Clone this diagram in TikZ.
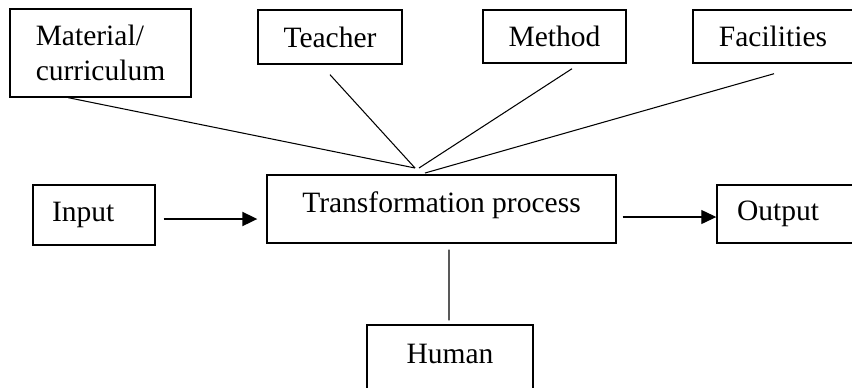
\documentclass[tikz,border=0pt]{standalone}
\usepackage{fontspec}
\setmainfont{Liberation Serif}
\usetikzlibrary{arrows.meta,calc}
\begin{document}
\begin{tikzpicture}
  [x=0.02cm,y=-0.02cm,every node/.style={draw,rectangle,line width=0.8pt,font=\fontsize{16.8}{19.5}\selectfont}]
  \tikzstyle{hightext} = [text height=0.4cm,text depth=0.28cm]
  \tikzstyle{link} = [line width=0.6pt]
  \tikzstyle{flow} = [-{Triangle[length=0.3cm,width=0.28cm]}]
  \useasboundingbox (0,0) rectangle (852,387);
  \node (mat) at (100.5,53) [minimum width=3.62cm,minimum height=1.76cm,align=left] {Material/\\curriculum};
  \node (tea) at (330,37)  [minimum width=2.88cm,minimum height=1.08cm] {Teacher};
  \node (met) at (554.5,36.5) [minimum width=2.86cm,minimum height=1.06cm] {Method};
  \node (fac) at (773,36.5) [minimum width=3.2cm,minimum height=1.06cm] {Facilities};
  \node (trs) at (441.5,209) [minimum width=6.98cm,minimum height=1.36cm,hightext] {Transformation process};
  \node (inp) at (94,215) [minimum width=2.44cm,minimum height=1.2cm,text width=1.68cm,align=left] {Input};
  \node (out) at (788.5,214) [minimum width=2.86cm,minimum height=1.16cm,text width=2.06cm,align=left] {Output};
  \node (hum) at (450,360) [minimum width=3.32cm,minimum height=1.4cm,hightext] {Human};
  \coordinate (smat) at ($(mat.south west)+(59,0)$);
  \coordinate (stea) at ($(tea.south)+(0,10)$);
  \coordinate (smet) at ($(met.south)+(17.5,5)$);
  \coordinate (sfac) at ($(fac.south)+(1,10)$);
  \coordinate (hub) at (415,168);
  \coordinate (hubm) at (419,168);
  \coordinate (hubf) at (425,173);
\foreach \source /\dest in {smat/hub,stea/hub,smet/hubm,sfac/hubf}
   \draw[link] (\source) -- (\dest);
  \draw[flow,line width=1.1pt] ($(inp.east)+(8,4)$) -- ($(trs.west)+(-9,10)$);
  \draw[flow,line width=0.7pt] ($(trs.east)+(6,8)$) -- ($(out.west)+(0,3)$);
  \draw[link] ($(trs.south)+(7.5,6)$) -- ($(hum.north)+(-1,-4)$);
\end{tikzpicture}
\end{document}
